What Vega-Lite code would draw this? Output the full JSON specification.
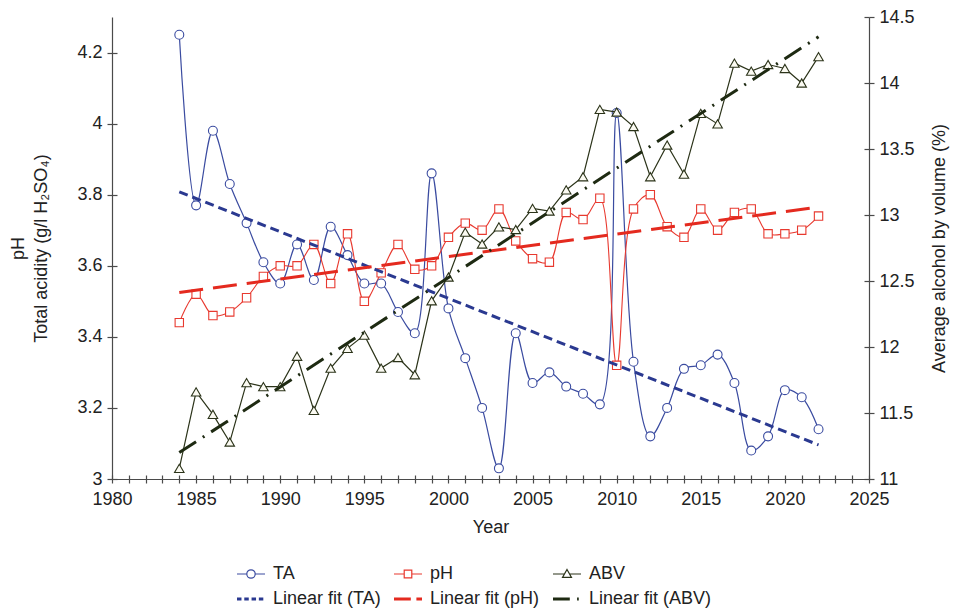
{
  "$schema": "https://vega.github.io/schema/vega-lite/v6.json",
  "width": 757,
  "height": 462,
  "autosize": "none",
  "padding": {"left": 112, "top": 17, "right": 88, "bottom": 130},
  "background": "white",
  "config": {
    "view": {"stroke": null},
    "font": "Liberation Sans",
    "axis": {
      "grid": false,
      "domainColor": "#4a4a4a",
      "tickColor": "#4a4a4a",
      "labelColor": "#222222",
      "titleColor": "#222222",
      "labelFont": "Liberation Sans",
      "titleFont": "Liberation Sans",
      "labelFontSize": 18,
      "titleFontSize": 18,
      "titleFontWeight": "normal",
      "domainWidth": 1.2,
      "tickWidth": 1.2
    }
  },
  "datasets": {
    "main": [
      {"year": 1984, "TA": 4.25, "pH": 3.44, "ABV": 11.08},
      {"year": 1985, "TA": 3.77, "pH": 3.52, "ABV": 11.66},
      {"year": 1986, "TA": 3.98, "pH": 3.46, "ABV": 11.49},
      {"year": 1987, "TA": 3.83, "pH": 3.47, "ABV": 11.28},
      {"year": 1988, "TA": 3.72, "pH": 3.51, "ABV": 11.73},
      {"year": 1989, "TA": 3.61, "pH": 3.57, "ABV": 11.70},
      {"year": 1990, "TA": 3.55, "pH": 3.60, "ABV": 11.70},
      {"year": 1991, "TA": 3.66, "pH": 3.60, "ABV": 11.93},
      {"year": 1992, "TA": 3.56, "pH": 3.66, "ABV": 11.52},
      {"year": 1993, "TA": 3.71, "pH": 3.55, "ABV": 11.84},
      {"year": 1994, "TA": 3.63, "pH": 3.69, "ABV": 11.99},
      {"year": 1995, "TA": 3.55, "pH": 3.50, "ABV": 12.09},
      {"year": 1996, "TA": 3.55, "pH": 3.58, "ABV": 11.84},
      {"year": 1997, "TA": 3.47, "pH": 3.66, "ABV": 11.92},
      {"year": 1998, "TA": 3.41, "pH": 3.59, "ABV": 11.79},
      {"year": 1999, "TA": 3.86, "pH": 3.60, "ABV": 12.35},
      {"year": 2000, "TA": 3.48, "pH": 3.68, "ABV": 12.53},
      {"year": 2001, "TA": 3.34, "pH": 3.72, "ABV": 12.87},
      {"year": 2002, "TA": 3.20, "pH": 3.70, "ABV": 12.78},
      {"year": 2003, "TA": 3.03, "pH": 3.76, "ABV": 12.91},
      {"year": 2004, "TA": 3.41, "pH": 3.67, "ABV": 12.89},
      {"year": 2005, "TA": 3.27, "pH": 3.62, "ABV": 13.05},
      {"year": 2006, "TA": 3.30, "pH": 3.61, "ABV": 13.03},
      {"year": 2007, "TA": 3.26, "pH": 3.75, "ABV": 13.19},
      {"year": 2008, "TA": 3.24, "pH": 3.73, "ABV": 13.29},
      {"year": 2009, "TA": 3.21, "pH": 3.79, "ABV": 13.80},
      {"year": 2010, "TA": 4.03, "pH": 3.32, "ABV": 13.78},
      {"year": 2011, "TA": 3.33, "pH": 3.76, "ABV": 13.67},
      {"year": 2012, "TA": 3.12, "pH": 3.80, "ABV": 13.29},
      {"year": 2013, "TA": 3.20, "pH": 3.71, "ABV": 13.53},
      {"year": 2014, "TA": 3.31, "pH": 3.68, "ABV": 13.31},
      {"year": 2015, "TA": 3.32, "pH": 3.76, "ABV": 13.77},
      {"year": 2016, "TA": 3.35, "pH": 3.70, "ABV": 13.69},
      {"year": 2017, "TA": 3.27, "pH": 3.75, "ABV": 14.15},
      {"year": 2018, "TA": 3.08, "pH": 3.76, "ABV": 14.09},
      {"year": 2019, "TA": 3.12, "pH": 3.69, "ABV": 14.14},
      {"year": 2020, "TA": 3.25, "pH": 3.69, "ABV": 14.11},
      {"year": 2021, "TA": 3.23, "pH": 3.70, "ABV": 14.00},
      {"year": 2022, "TA": 3.14, "pH": 3.74, "ABV": 14.20}
    ],
    "fits": [
      {"series": "Linear fit (TA)", "year": 1984, "value": 3.808},
      {"series": "Linear fit (TA)", "year": 2022, "value": 3.096},
      {"series": "Linear fit (pH)", "year": 1984, "value": 3.525},
      {"series": "Linear fit (pH)", "year": 2022, "value": 3.765},
      {"series": "Linear fit (ABV)", "year": 1984, "value": 11.2},
      {"series": "Linear fit (ABV)", "year": 2022, "value": 14.35}
    ]
  },
  "resolve": {"scale": {"y": "independent"}, "axis": {"x": "independent", "y": "independent"}},
  "layer": [
    {
      "data": {"name": "main"},
      "encoding": {
        "x": {
          "field": "year", "type": "quantitative",
          "scale": {"domain": [1980, 2025], "nice": false, "zero": false},
          "axis": {
            "orient": "bottom",
            "values": [1980,1981,1982,1983,1984,1985,1986,1987,1988,1989,1990,1991,1992,1993,1994,1995,1996,1997,1998,1999,2000,2001,2002,2003,2004,2005,2006,2007,2008,2009,2010,2011,2012,2013,2014,2015,2016,2017,2018,2019,2020,2021,2022,2023,2024,2025],
            "format": "d",
            "labelExpr": "datum.value % 5 === 0 ? datum.label : ''",
            "labelOverlap": false,
            "labelFlush": false,
            "tickSize": 4,
            "labelPadding": 7,
            "title": "Year",
            "titlePadding": 10
          }
        }
      },
      "layer": [
        {
          "mark": {"type": "line", "color": "#3a4ba0", "strokeWidth": 1.2, "interpolate": "catmull-rom"},
          "encoding": {
            "y": {
              "field": "TA", "type": "quantitative",
              "scale": {"domain": [3, 4.3], "nice": false, "zero": false},
              "axis": {
                "orient": "left",
                "values": [3, 3.2, 3.4, 3.6, 3.8, 4, 4.2],
                "format": ".1~f",
                "tickSize": 5,
                "labelPadding": 5,
                "title": ["pH", "Total acidity (g/l H₂SO₄)"],
                "titleLineHeight": 23,
                "titlePadding": 26
              }
            }
          }
        },
        {
          "mark": {"type": "line", "color": "#e8392f", "strokeWidth": 1.1, "interpolate": "catmull-rom"},
          "encoding": {"y": {"field": "pH", "type": "quantitative"}}
        },
        {
          "mark": {"type": "point", "shape": "circle", "filled": true, "fill": "white", "stroke": "#3a4ba0", "strokeWidth": 1.1, "size": 80, "opacity": 1},
          "encoding": {"y": {"field": "TA", "type": "quantitative"}}
        },
        {
          "mark": {"type": "point", "shape": "square", "filled": true, "fill": "white", "stroke": "#e8392f", "strokeWidth": 1.1, "size": 70, "opacity": 1},
          "encoding": {"y": {"field": "pH", "type": "quantitative"}}
        },
        {
          "data": {"name": "fits"},
          "transform": [{"filter": "datum.series === 'Linear fit (TA)'"}],
          "mark": {"type": "line", "color": "#2a3990", "strokeWidth": 3, "strokeDash": [9, 5]},
          "encoding": {"y": {"field": "value", "type": "quantitative"}}
        },
        {
          "data": {"name": "fits"},
          "transform": [{"filter": "datum.series === 'Linear fit (pH)'"}],
          "mark": {"type": "line", "color": "#e42a1f", "strokeWidth": 3, "strokeDash": [24, 10]},
          "encoding": {"y": {"field": "value", "type": "quantitative"}}
        }
      ]
    },
    {
      "data": {"name": "main"},
      "encoding": {
        "x": {"field": "year", "type": "quantitative", "scale": {"domain": [1980, 2025], "nice": false, "zero": false}, "axis": null}
      },
      "layer": [
        {
          "mark": {"type": "line", "color": "#2b3319", "strokeWidth": 1.2},
          "encoding": {
            "y": {
              "field": "ABV", "type": "quantitative",
              "scale": {"domain": [11, 14.5], "nice": false, "zero": false},
              "axis": {
                "orient": "right",
                "values": [11, 11.5, 12, 12.5, 13, 13.5, 14, 14.5],
                "format": ".1~f",
                "tickSize": 5,
                "labelPadding": 5,
                "title": "Average alcohol by volume (%)",
                "titleAngle": -90,
                "titleBaseline": "top",
                "titlePadding": 16
              }
            }
          }
        },
        {
          "mark": {"type": "point", "shape": "triangle-up", "filled": true, "fill": "#fbfaf2", "stroke": "#2b3319", "strokeWidth": 1.1, "size": 90, "opacity": 1},
          "encoding": {"y": {"field": "ABV", "type": "quantitative"}}
        },
        {
          "data": {"name": "fits"},
          "transform": [{"filter": "datum.series === 'Linear fit (ABV)'"}],
          "mark": {"type": "line", "color": "#1e2a12", "strokeWidth": 3, "strokeDash": [20, 8, 2, 8]},
          "encoding": {"y": {"field": "value", "type": "quantitative"}}
        }
      ]
    },
    {
      "data": {"name": "fits"},
      "transform": [{"filter": "false"}],
      "mark": {"type": "point", "filled": false, "opacity": 1, "size": 784, "strokeWidth": 1.2},
      "encoding": {
        "x": {
          "field": "year", "type": "quantitative",
          "scale": {"domain": [1980, 2025], "nice": false, "zero": false},
          "axis": {
            "orient": "bottom",
            "values": [1980,1981,1982,1983,1984,1985,1986,1987,1988,1989,1990,1991,1992,1993,1994,1995,1996,1997,1998,1999,2000,2001,2002,2003,2004,2005,2006,2007,2008,2009,2010,2011,2012,2013,2014,2015,2016,2017,2018,2019,2020,2021,2022,2023,2024,2025],
            "tickSize": -4, "labels": false, "domain": false, "title": null
          }
        },
        "y": {
          "field": "value", "type": "quantitative",
          "scale": {"domain": [3, 4.3], "nice": false, "zero": false},
          "axis": {"orient": "left", "values": [3, 3.2, 3.4, 3.6, 3.8, 4, 4.2], "tickSize": -5, "labels": false, "domain": false, "title": null}
        },
        "color": {
          "field": "series", "type": "nominal",
          "scale": {
            "domain": ["TA", "pH", "ABV", "Linear fit (TA)", "Linear fit (pH)", "Linear fit (ABV)"],
            "range": ["#3a4ba0", "#e8392f", "#2b3319", "#2a3990", "#e42a1f", "#1e2a12"]
          },
          "legend": {
            "orient": "none",
            "legendX": 124,
            "legendY": 542,
            "title": null,
            "columns": 3,
            "direction": "horizontal",
            "columnPadding": 10,
            "rowPadding": 1,
            "symbolSize": 784,
            "symbolStrokeWidth": 1.2,
            "labelFontSize": 18,
            "labelFont": "Liberation Sans",
            "labelColor": "#222222",
            "labelOffset": 7,
            "padding": 0
          }
        },
        "shape": {
          "field": "series", "type": "nominal",
          "scale": {
            "domain": ["TA", "pH", "ABV", "Linear fit (TA)", "Linear fit (pH)", "Linear fit (ABV)"],
            "range": [
              "M-1,0H-0.3M0.3,0H1M-0.3,0A0.3,0.3,0,1,1,0.3,0A0.3,0.3,0,1,1,-0.3,0Z",
              "M-1,0H-0.27M0.27,0H1M-0.27,-0.27H0.27V0.27H-0.27Z",
              "M-1,0H-0.18M0.18,0H1M0,-0.32L0.32,0.24H-0.32Z",
              "M-1,-0.07H-0.68M-0.48,-0.07H-0.16M0.04,-0.07H0.36M0.56,-0.07H0.88M-1,0H-0.68M-0.48,0H-0.16M0.04,0H0.36M0.56,0H0.88M-1,0.07H-0.68M-0.48,0.07H-0.16M0.04,0.07H0.36M0.56,0.07H0.88",
              "M-1,-0.07H0.2M0.6,-0.07H1M-1,0H0.2M0.6,0H1M-1,0.07H0.2M0.6,0.07H1",
              "M-1,-0.07H0.2M0.72,-0.07H0.84M-1,0H0.2M0.72,0H0.84M-1,0.07H0.2M0.72,0.07H0.84"
            ]
          }
        }
      }
    },
    {
      "data": {"name": "fits"},
      "transform": [{"filter": "false"}],
      "mark": {"type": "point", "opacity": 1},
      "encoding": {
        "x": {"field": "year", "type": "quantitative", "scale": {"domain": [1980, 2025], "nice": false, "zero": false}, "axis": null},
        "y": {
          "field": "value", "type": "quantitative",
          "scale": {"domain": [11, 14.5], "nice": false, "zero": false},
          "axis": {"orient": "right", "values": [11, 11.5, 12, 12.5, 13, 13.5, 14, 14.5], "tickSize": -5, "labels": false, "domain": false, "title": null}
        }
      }
    }
  ]
}
